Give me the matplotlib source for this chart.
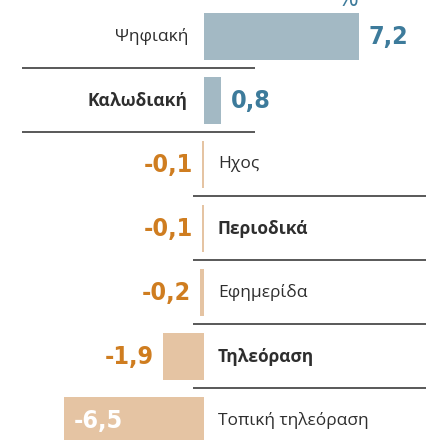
import matplotlib.pyplot as plt

# ===============================
# DATA
# ===============================
categories = ['Ψηφιακή', 'Καλωδιακή', 'Ηχος', 'Περιοδικά',
              'Εφημερίδα', 'Τηλεόραση', 'Τοπική τηλεόραση']
values = [7.2, 0.8, -0.1, -0.1, -0.2, -1.9, -6.5]
value_labels = ['7,2', '0,8', '-0,1', '-0,1', '-0,2', '-1,9', '-6,5']
bold_rows = [False, True, False, True, False, True, False]

# ===============================
# STYLE
# ===============================
POS_BAR = '#a3b9c4'
POS_TXT = '#3d7b9b'
NEG_BAR = '#e5c4a3'
NEG_TXT = '#cf7d20'
LABEL_TXT = '#2e2e2e'
RULE = '#2b2b2b'
FONT = 'Open Sans'

plt.rcParams['font.family'] = [FONT, 'DejaVu Sans']

fig = plt.figure(figsize=(4.27, 4.40), dpi=100)
ax = fig.add_axes([0, 0, 1, 1])
ax.set_axis_off()

# 21.5 px per unit, zero at x=204 px; 64 px per row
ax.set_xlim(-204 / 21.5, (427 - 204) / 21.5)
ax.set_ylim((440 - 36.5) / 64, -36.5 / 64)

rows = list(range(len(values)))
colors = [POS_BAR if v > 0 else NEG_BAR for v in values]
ax.barh(rows, values, height=0.735, color=colors, linewidth=0)

# separator lines
for i in range(len(values) - 1):
    y = i + 0.5
    if i < 2:
        ax.hlines(y, -182 / 21.5, 51 / 21.5, color=RULE, lw=1.1)
    else:
        ax.hlines(y, -11 / 21.5, 223 / 21.5, color=RULE, lw=1.1)

# labels
num_kw = dict(fontsize=18, weight='bold', family='DejaVu Sans',
              stretch='condensed', va='center')
for i, (cat, v, lab, b) in enumerate(zip(categories, values, value_labels, bold_rows)):
    w = 'bold' if b else 'normal'
    if v > 0:
        ax.annotate(cat, (0, i), xytext=(-16, 0), textcoords='offset pixels',
                    ha='right', va='center', fontsize=12.5, color=LABEL_TXT, weight=w)
        ax.annotate(lab, (v, i), xytext=(10, 0), textcoords='offset pixels',
                    ha='left', color=POS_TXT, **num_kw)
    else:
        ax.annotate(cat, (0, i), xytext=(14, 0), textcoords='offset pixels',
                    ha='left', va='center', fontsize=12.5, color=LABEL_TXT, weight=w)
        if v < -5:
            ax.annotate(lab, (v, i), xytext=(9, 0), textcoords='offset pixels',
                        ha='left', color='white', **num_kw)
        else:
            ax.annotate(lab, (v, i), xytext=(-9, 0), textcoords='offset pixels',
                        ha='right', color=NEG_TXT, **num_kw)

# unit sign, cut at the top edge
ax.annotate('%', (values[0], -0.367), xytext=(0, 7), textcoords='offset pixels',
            ha='right', va='baseline', fontsize=18, color=POS_TXT)

fig.savefig('out.png', dpi=100)
